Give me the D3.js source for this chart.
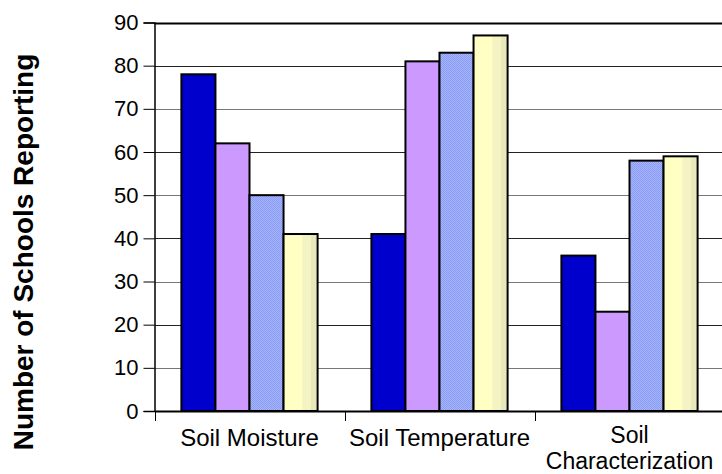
<!DOCTYPE html>
<html><head><meta charset="utf-8">
<script src="https://cdn.jsdelivr.net/npm/d3@7"></script>
<style>html,body{margin:0;padding:0;background:#fff;}svg{display:block;}</style>
</head><body>
<svg id="c" width="722" height="474"></svg>
<script>
const categories = ["Soil Moisture", "Soil Temperature", "Soil Characterization"];
const seriesNames = ["S1", "S2", "S3", "S4"];
const series1 = [78, 41, 36];
const series2 = [62, 81, 23];
const series3 = [50, 83, 58];
const series4 = [41, 87, 59];
const yTicks = [0, 10, 20, 30, 40, 50, 60, 70, 80, 90];
const yTitle = "Number of Schools Reporting";

const allSeries = [series1, series2, series3, series4];
const svg = d3.select("#c");
const font = "'Liberation Sans', Arial, sans-serif";

const defs = svg.append("defs");
const pat = defs.append("pattern").attr("id","dots").attr("patternUnits","userSpaceOnUse").attr("width",2).attr("height",2);
pat.append("rect").attr("width",2).attr("height",2).attr("fill","#a4b4ff");
pat.append("rect").attr("width",1).attr("height",1).attr("fill","#8c9cf0");
pat.append("rect").attr("x",1).attr("y",1).attr("width",1).attr("height",1).attr("fill","#8c9cf0");
const grad = defs.append("linearGradient").attr("id","yel").attr("x1","0").attr("x2","1").attr("y1","0").attr("y2","0");
[[0,"#ffffc4"],[0.55,"#ffffc4"],[0.56,"#f3f3c4"],[0.8,"#f3f3c4"],[0.81,"#e8e8b8"],[1,"#e8e8b8"]].forEach(s=>grad.append("stop").attr("offset",s[0]).attr("stop-color",s[1]));
const fills = ["#0000cc", "#cc99ff", "url(#dots)", "url(#yel)"];

const x0 = 154.5, yBase = 411;
const x = d3.scaleBand().domain(categories).range([x0, x0 + 3*190]).paddingInner(0).paddingOuter(0);
const y = d3.scaleLinear().domain([0, 90]).range([yBase, 22.5]);
const xs = d3.scaleBand().domain(seriesNames).range([0, x.bandwidth()]).paddingOuter(0.79).paddingInner(0);

// gridlines
svg.append("g").selectAll("line").data(yTicks.filter(t=>t>0)).join("line")
  .attr("x1", x0).attr("x2", 722)
  .attr("y1", d=>Math.round(y(d))+0.5).attr("y2", d=>Math.round(y(d))+0.5)
  .attr("stroke", d=> d===90 ? "#000" : (d%20===10 ? "#777" : "#222"))
  .attr("stroke-width", d=> d===90 ? 2 : 1);

// bars
categories.forEach((c, ci) => {
  allSeries.forEach((s, si) => {
    svg.append("rect")
      .attr("x", x(c) + xs(seriesNames[si]))
      .attr("y", y(s[ci]))
      .attr("width", xs.bandwidth())
      .attr("height", yBase - y(s[ci]))
      .attr("fill", fills[si])
      .attr("stroke", "#000").attr("stroke-width", 2);
  });
});

// y axis
const yAxis = d3.axisLeft(y).tickValues(yTicks).tickSize(11).tickPadding(5);
const gy = svg.append("g").attr("transform", `translate(${x0},0)`).call(yAxis);
gy.select(".domain").attr("stroke","#000").attr("stroke-width",1.5);
gy.selectAll(".tick line").attr("stroke","#000");
gy.selectAll("text").attr("font-family", font).attr("font-size", 22).attr("fill","#000");

// x axis
const xAxis = d3.axisBottom(x).tickValues([]).tickSizeOuter(0);
const gx = svg.append("g").attr("transform", `translate(0,${yBase})`).call(xAxis);
gx.select(".domain").attr("stroke","#000").attr("stroke-width",2);
// category boundary ticks
svg.append("g").selectAll("line").data(categories.map(c=>x(c))).join("line")
  .attr("x1", d=>Math.round(d)+0.5).attr("x2", d=>Math.round(d)+0.5)
  .attr("y1", yBase).attr("y2", yBase+10).attr("stroke","#000");

// category labels
const labelLines = [["Soil Moisture"], ["Soil Temperature"], ["Soil", "Characterization"]];
categories.forEach((c, ci) => {
  const lines = labelLines[ci];
  const multi = lines.length > 1;
  lines.forEach((ln, li) => {
    svg.append("text").attr("text-anchor","middle")
      .attr("font-family", font).attr("font-size", multi ? 23 : 24).attr("fill","#000")
      .attr("x", x(c) + x.bandwidth()/2)
      .attr("y", multi ? 443 + li*26 : 446)
      .text(ln);
  });
});

// y title
svg.append("text").attr("transform", "translate(33,252) rotate(-90)")
  .attr("text-anchor","middle").attr("font-family", font).attr("font-weight","bold")
  .attr("font-size", 28).attr("fill","#000").text(yTitle);
</script>
</body></html>
